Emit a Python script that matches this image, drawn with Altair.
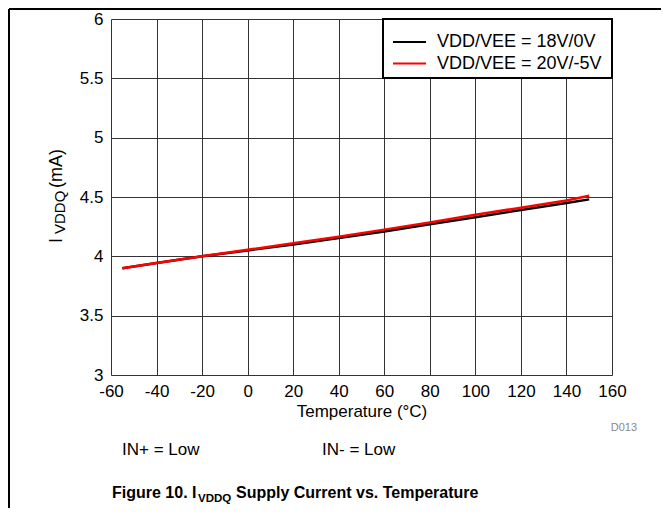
import altair as alt
import pandas as pd

# ---- data ----
temps = [-55, -40, -20, 0, 20, 40, 60, 80, 100, 120, 140, 150]
i_18v = [3.90, 3.943, 4.00, 4.05, 4.10, 4.155, 4.21, 4.27, 4.33, 4.39, 4.45, 4.48]
i_20v = [3.90, 3.943, 4.00, 4.055, 4.11, 4.165, 4.225, 4.285, 4.35, 4.41, 4.47, 4.51]
series = ["VDD/VEE = 18V/0V", "VDD/VEE = 20V/-5V"]
colors = ["black", "#ff0000"]
x_ticks = [-60, -40, -20, 0, 20, 40, 60, 80, 100, 120, 140, 160]
y_ticks = [3, 3.5, 4, 4.5, 5, 5.5, 6]
x_title = "Temperature (°C)"
y_title_parts = ["I", "VDDQ", "(mA)"]
caption_parts = ["Figure 10. I", "VDDQ", "Supply Current vs. Temperature"]
notes = ["IN+ = Low", "IN- = Low"]
code_label = "D013"

rows = []
for t, a in zip(temps, i_18v):
    rows.append({"temp": t, "current": a, "series": series[0]})
for t, b in zip(temps, i_20v):
    rows.append({"temp": t, "current": b, "series": series[1]})
df = pd.DataFrame(rows)

FONT = "Liberation Sans"
W, H = 501, 356

lines = alt.Chart(df).mark_line(strokeWidth=2.5).encode(
    x=alt.X("temp:Q",
            scale=alt.Scale(domain=[-60, 160], nice=False, zero=False),
            axis=alt.Axis(values=x_ticks, title=x_title, grid=True, ticks=False,
                          domain=False, labelFontSize=17, titleFontSize=17,
                          titleFontWeight="normal", labelPadding=8, titlePadding=4,
                          labelColor="black", titleColor="black",
                          labelExpr="replace(datum.label, '\u2212', '-')",
                          gridColor="#333", gridWidth=1, labelFlush=False)),
    y=alt.Y("current:Q",
            scale=alt.Scale(domain=[3, 6], nice=False, zero=False),
            axis=alt.Axis(values=y_ticks, title=None, grid=True, ticks=False,
                          domain=False, labelFontSize=17, format=".1~f",
                          labelPadding=8, labelColor="black",
                          gridColor="#333", gridWidth=1, labelFlush=False)),
    color=alt.Color("series:N",
                    scale=alt.Scale(domain=series, range=colors),
                    legend=alt.Legend(title=None,
                                      orient="none", legendX=281, legendY=14,
                                      symbolType="stroke", symbolSize=1089,
                                      symbolStrokeWidth=2, clipHeight=18,
                                      rowPadding=3.5, labelFontSize=18,
                                      labelOffset=10, padding=0, labelLimit=400,
                                      labelColor="black")),
)

# legend frame (white box with black border)
legend_box = alt.Chart(pd.DataFrame({"k": [0]})).mark_rect(
    fill="white", stroke="black", strokeWidth=2).encode(
    x=alt.value(272), x2=alt.value(501), y=alt.value(0), y2=alt.value(59))


def text_layer(txt, x, y, size, angle=0, weight="normal", color="black", align="left"):
    return alt.Chart(pd.DataFrame({"t": [txt]})).mark_text(
        font=FONT, fontSize=size, angle=angle, fontWeight=weight,
        color=color, align=align, baseline="alphabetic").encode(
        x=alt.value(x), y=alt.value(y), text="t:N")


# y axis title with subscript (rotated)
yt = [
    text_layer(y_title_parts[0], -49, 224, 18, angle=270),
    text_layer(y_title_parts[1], -46, 215, 15, angle=270),
    text_layer(y_title_parts[2], -49, 169, 18, angle=270),
]
# caption with subscript
cap_x = 1
cap_y = 479
cap = [
    text_layer(caption_parts[0], cap_x, cap_y, 16, weight="bold"),
    text_layer(caption_parts[1], cap_x + 86, cap_y + 4, 11.5, weight="bold"),
    text_layer(caption_parts[2], cap_x + 124, cap_y, 16, weight="bold"),
]
others = [
    text_layer(notes[0], 11, 436, 17),
    text_layer(notes[1], 211, 436, 17),
    text_layer(code_label, 526, 412, 11, color="#888", align="right"),
]

frame_left = alt.Chart(pd.DataFrame({"k": [0]})).mark_rule(color="black", strokeWidth=2).encode(
    x=alt.value(-102), y=alt.value(-10), y2=alt.value(489))
frame_top = alt.Chart(pd.DataFrame({"k": [0]})).mark_rule(color="black", strokeWidth=2).encode(
    x=alt.value(-102), x2=alt.value(550), y=alt.value(-10))

chart = alt.layer(lines, legend_box, *yt, *cap, *others, frame_left, frame_top).properties(
    width=W, height=H,
    autosize=alt.AutoSizeParams(type="none"),
    padding={"left": 103, "top": 11, "right": 49, "bottom": 133},
).configure_view(stroke="black", strokeWidth=2).configure(
    font=FONT
)

chart.save("out.html", embed_options={"renderer": "svg", "actions": False})
